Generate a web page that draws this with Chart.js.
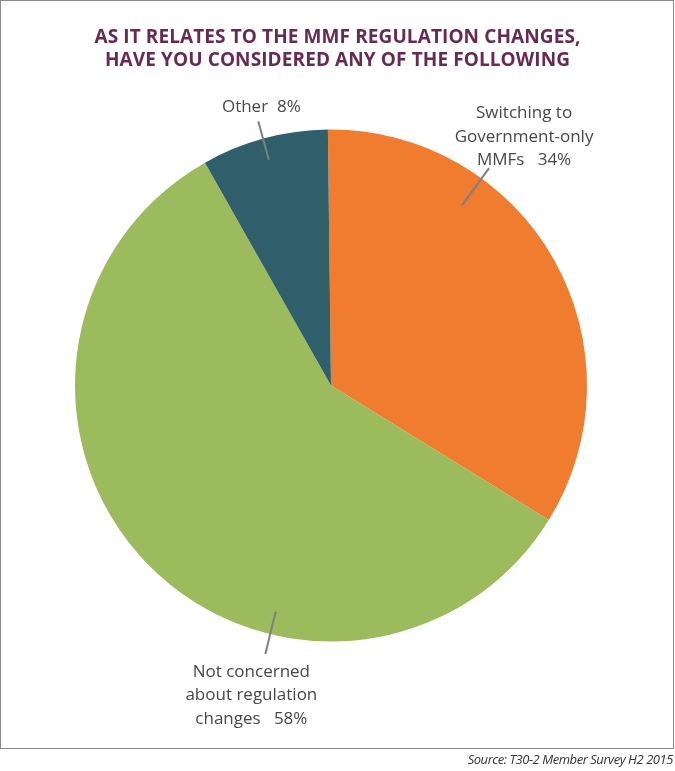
<!DOCTYPE html>
<html>
<head>
<meta charset="utf-8">
<script src="https://cdn.jsdelivr.net/npm/chart.js@4.4.1/dist/chart.umd.min.js"></script>
<style>
  html, body { margin: 0; padding: 0; background: #fff; }
  #wrap { position: relative; width: 675px; height: 771px; overflow: hidden; }
  #frame { position: absolute; left: 0; top: 0; width: 674px; height: 749px; border: 1.5px solid #8a8a8a; box-sizing: border-box; }
  #title { position: absolute; left: 0; width: 675px; top: 25px; text-align: center;
           font-family: "Open Sans", sans-serif; font-weight: 700; font-size: 19px; line-height: 23px;
           color: #672a52; letter-spacing: 0.1px; }
  #source { position: absolute; right: 2px; top: 750px; font-family: "Open Sans", sans-serif; font-style: italic;
            font-size: 13px; color: #333; letter-spacing: -0.45px; }
  canvas { position: absolute; left: 0; top: 0; }
</style>
</head>
<body>
<div id="wrap">
  <div id="frame"></div>
  <canvas id="c" width="675" height="771"></canvas>
  <div id="title">AS IT RELATES TO THE MMF REGULATION CHANGES,<br>HAVE YOU CONSIDERED ANY OF THE FOLLOWING</div>
  <div id="source">Source: T30-2 Member Survey H2 2015</div>
</div>
<script>
// Data
const categories = ["Switching to Government-only MMFs", "Not concerned about regulation changes", "Other"];
const values = [34, 58, 8];
const labelLines = [
  ["Switching to", "Government-only", "MMFs   34%"],
  ["Not concerned", "about regulation", "changes   58%"],
  ["Other  8%"]
];
const colors = ["#f07c30", "#9bbb5c", "#2f5f6b"];

// Label styling: where along each slice the leader sits, and text offsets from leader end
const leaderFrac = [0.30, 0.345, 0.49];
const leaderInner = [0.87, 0.91, 0.915];
const leaderOuter = [1.05, 1.08, 1.07];
const textOffset = [[35, 4, "bottom"], [-14, 6, "top"], [3, -2, "bottom"]];

const labelPlugin = {
  id: 'pieLabels',
  afterDatasetsDraw(chart) {
    const ctx = chart.ctx;
    const meta = chart.getDatasetMeta(0);
    meta.data.forEach((arc, i) => {
      const p = arc.getProps(['x', 'y', 'startAngle', 'endAngle', 'outerRadius'], true);
      const a = p.startAngle + (p.endAngle - p.startAngle) * leaderFrac[i];
      const r = p.outerRadius;
      const x1 = p.x + Math.cos(a) * r * leaderInner[i];
      const y1 = p.y + Math.sin(a) * r * leaderInner[i];
      const x2 = p.x + Math.cos(a) * r * leaderOuter[i];
      const y2 = p.y + Math.sin(a) * r * leaderOuter[i];
      ctx.save();
      ctx.strokeStyle = '#7f7f7f';
      ctx.lineWidth = 2;
      ctx.beginPath();
      ctx.moveTo(x1, y1);
      ctx.lineTo(x2, y2);
      ctx.stroke();
      ctx.fillStyle = '#474747';
      ctx.font = '17px "Open Sans", sans-serif';
      ctx.textAlign = 'center';
      ctx.textBaseline = 'middle';
      const lh = 23.5;
      const lines = labelLines[i];
      const cx = x2 + textOffset[i][0];
      let startY;
      if (textOffset[i][2] === 'bottom') {
        startY = y2 + textOffset[i][1] - (lines.length - 1) * lh - lh / 2;
      } else {
        startY = y2 + textOffset[i][1] + lh / 2;
      }
      lines.forEach((t, k) => ctx.fillText(t, cx, startY + k * lh));
      ctx.restore();
    });
  }
};

new Chart(document.getElementById('c'), {
  type: 'pie',
  data: {
    labels: categories,
    datasets: [{ data: values, backgroundColor: colors, borderWidth: 0 }]
  },
  options: {
    responsive: false,
    animation: false,
    devicePixelRatio: 1,
    rotation: -0.7,
    layout: { padding: { left: 75, right: 88, top: 129.5, bottom: 129.5 } },
    plugins: { legend: { display: false }, tooltip: { enabled: false }, title: { display: false } }
  },
  plugins: [labelPlugin]
});
</script>
</body>
</html>
